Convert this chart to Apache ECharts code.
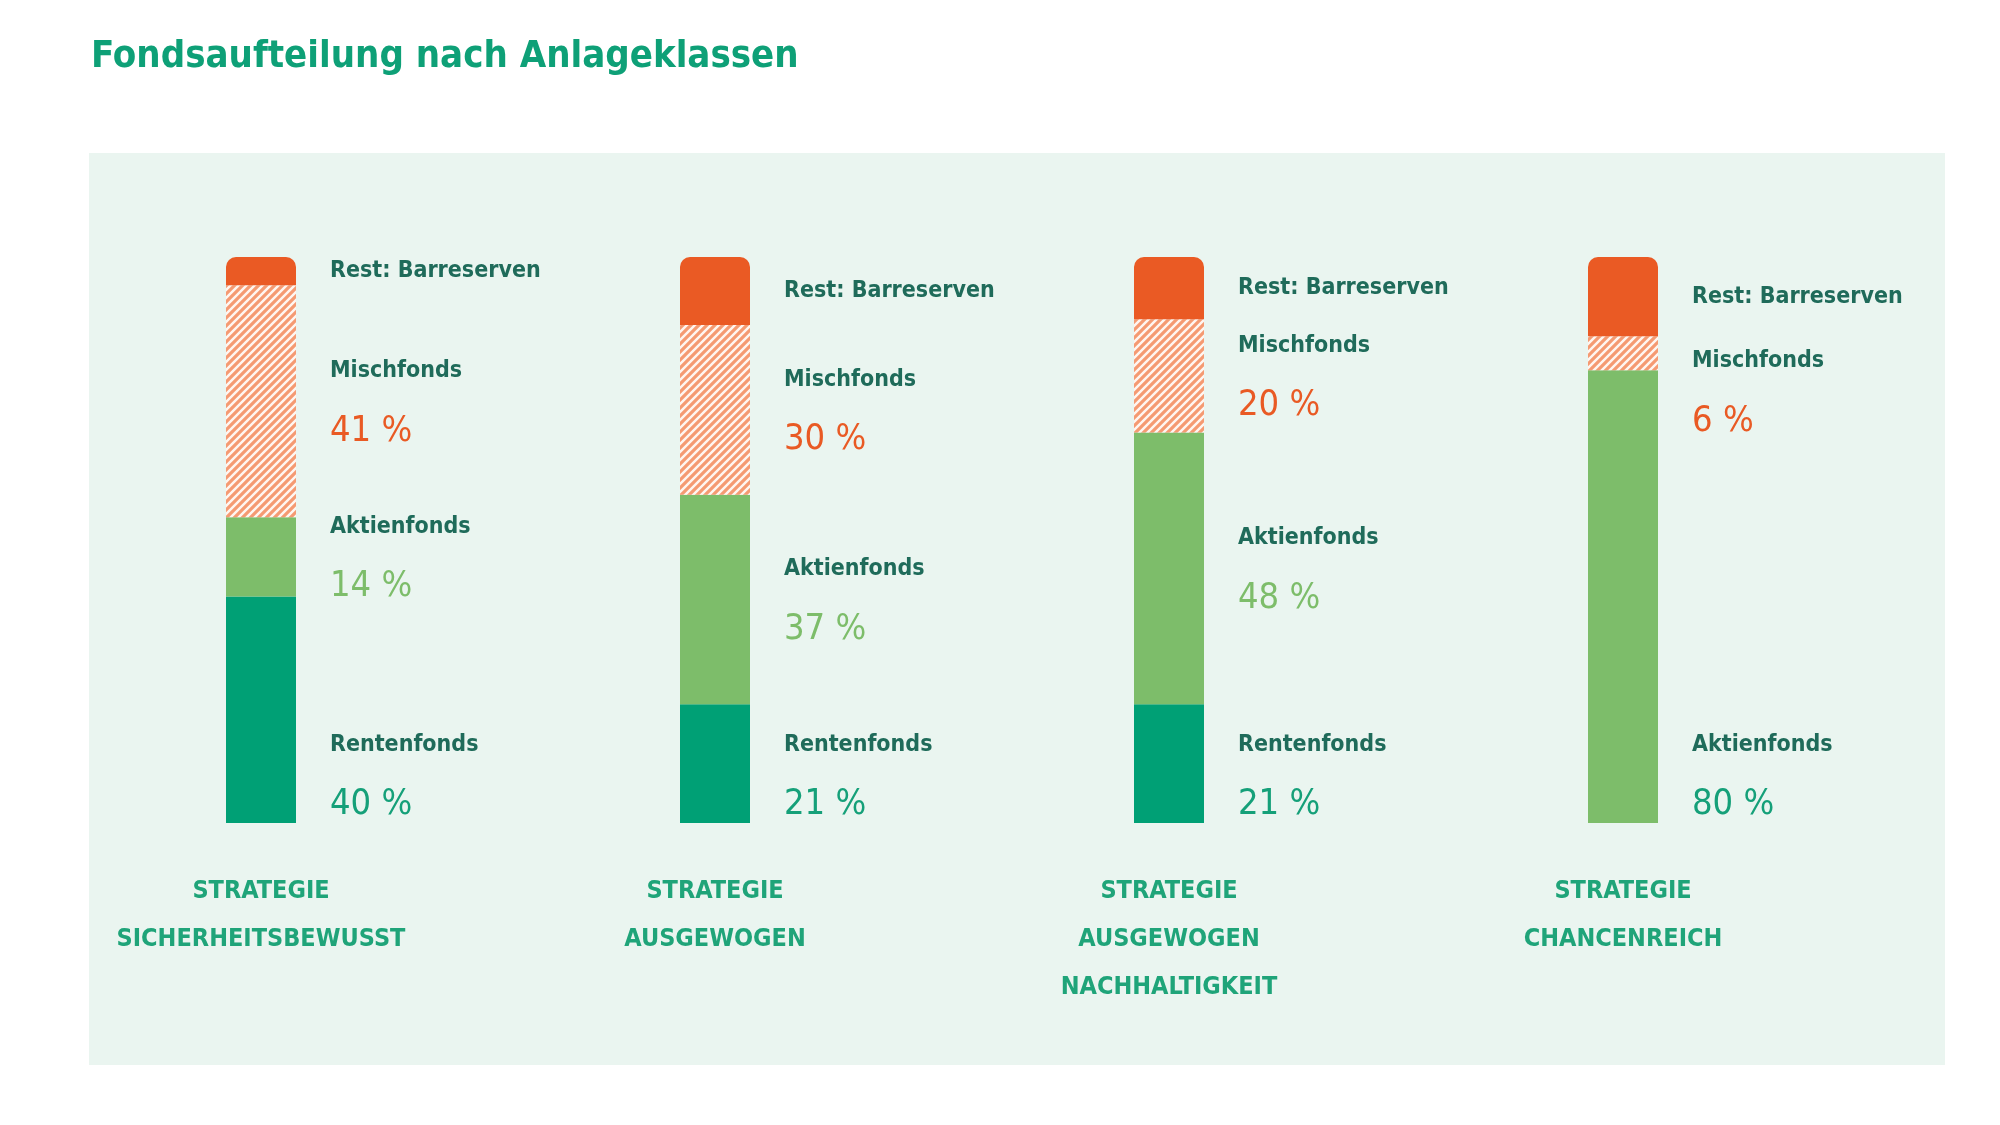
<!DOCTYPE html>
<html>
<head>
<meta charset="utf-8">
<script src="https://cdn.jsdelivr.net/npm/echarts@6/dist/echarts.min.js"></script>
<style>
html,body{margin:0;padding:0;background:#ffffff;}
#chart{width:2000px;height:1125px;}
</style>
</head>
<body>
<div id="chart"></div>
<script>
// ---- data ----
var titleText = 'Fondsaufteilung nach Anlageklassen';
var categories = [
  'STRATEGIE\nSICHERHEITSBEWUSST',
  'STRATEGIE\nAUSGEWOGEN',
  'STRATEGIE\nAUSGEWOGEN\nNACHHALTIGKEIT',
  'STRATEGIE\nCHANCENREICH'
];
var seriesNames = ['Rentenfonds', 'Aktienfonds', 'Mischfonds', 'Rest: Barreserven'];
var renten = [40, 21, 21, null];
var aktien = [14, 37, 48, 80];
var misch  = [41, 30, 20, 6];
var rest   = [5, 12, 11, 14];

// ---- styling ----
var FONT = "'Liberation Sans Narrow', 'DejaVu Sans Condensed', 'Roboto', sans-serif";
var C = {
  rest: '#ea5a24',
  hatchLine: '#f59a72',
  hatchBg: '#fff6f1',
  aktien: '#7dbd6a',
  renten: '#00a075',
  name: '#1f6b5a',
  mischPct: '#e95a24',
  aktienPct: '#7dbd6a',
  rentenPct: '#15a079',
  cat: '#1fa479',
  title: '#0ea077',
  panel: '#eaf5f0'
};
var LINE_H = 60;          // line height of the two-line labels
var BLOCK_H = 2 * LINE_H; // height of a two-line label block

// hatch pattern
var pc = document.createElement('canvas');
pc.width = 8; pc.height = 8;
var ctx = pc.getContext('2d');
ctx.fillStyle = C.hatchBg; ctx.fillRect(0, 0, 8, 8);
ctx.strokeStyle = C.hatchLine; ctx.lineWidth = 3.2;
ctx.beginPath();
ctx.moveTo(-1, 9); ctx.lineTo(9, -1);
ctx.moveTo(-5, 5); ctx.lineTo(5, -5);
ctx.moveTo(3, 13); ctx.lineTo(13, 3);
ctx.stroke();

var rich = {
  n: { fontFamily: FONT, fontSize: 23, fontWeight: 'bold', color: C.name, lineHeight: LINE_H },
  pm: { fontFamily: FONT, fontSize: 36, color: C.mischPct, lineHeight: LINE_H },
  pa: { fontFamily: FONT, fontSize: 36, color: C.aktienPct, lineHeight: LINE_H },
  pr: { fontFamily: FONT, fontSize: 36, color: C.rentenPct, lineHeight: LINE_H },
  r: { fontFamily: FONT, fontSize: 23, fontWeight: 'bold', color: C.name, lineHeight: 30 }
};

function layoutFor(kind) {
  return function (p) {
    var r = p.rect, i = p.dataIndex;
    var x = r.x + r.width + 34;
    var h = kind === 'rest' ? 30 : BLOCK_H;
    var y;
    var isBottom = kind === 'renten' || (kind === 'aktien' && renten[i] == null);
    if (isBottom) y = r.y + r.height + 12 - h;
    else if (r.height < h / 2) y = r.y - 5;
    else y = r.y + r.height / 2 - h / 2;
    return { x: x, y: y, align: 'left', verticalAlign: 'top' };
  };
}

function pctStyle(kind, i) {
  if (kind === 'misch') return 'pm';
  if (kind === 'renten') return 'pr';
  return renten[i] == null ? 'pr' : 'pa';
}

function mkSeries(name, data, kind, itemStyle) {
  return {
    name: name,
    type: 'bar',
    stack: 'total',
    barWidth: 70,
    data: data,
    itemStyle: itemStyle,
    emphasis: { disabled: true },
    label: {
      show: true,
      position: 'right',
      rich: rich,
      formatter: function (p) {
        if (kind === 'rest') return '{r|' + name + '}';
        return '{n|' + name + '}\n{' + pctStyle(kind, p.dataIndex) + '|' + p.value + ' %}';
      }
    },
    labelLayout: layoutFor(kind)
  };
}

var chart = echarts.init(document.getElementById('chart'), null, { renderer: 'canvas' });
chart.setOption({
  animation: false,
  backgroundColor: '#ffffff',
  title: {
    text: titleText,
    left: 86,
    top: 33,
    textStyle: { fontFamily: FONT, fontSize: 38, fontWeight: 'bold', color: C.title }
  },
  graphic: [{
    type: 'rect', silent: true, z: -10,
    shape: { x: 89, y: 153, width: 1856, height: 912 },
    style: { fill: C.panel }
  }],
  grid: { left: 34, right: 150, top: 257, bottom: 302 },
  xAxis: {
    type: 'category',
    data: categories,
    axisLine: { show: false },
    axisTick: { show: false },
    axisLabel: {
      margin: 44,
      fontFamily: FONT, fontSize: 25, fontWeight: 'bold',
      color: C.cat, lineHeight: 48, interval: 0
    }
  },
  yAxis: {
    type: 'value', min: 0, max: 100, show: false,
    splitLine: { show: false }
  },
  series: [
    mkSeries(seriesNames[0], renten, 'renten', { color: C.renten }),
    mkSeries(seriesNames[1], aktien, 'aktien', { color: C.aktien }),
    mkSeries(seriesNames[2], misch, 'misch', { color: { image: pc, repeat: 'repeat' } }),
    mkSeries(seriesNames[3], rest, 'rest', { color: C.rest, borderRadius: [10, 10, 0, 0] })
  ]
});
</script>
</body>
</html>
